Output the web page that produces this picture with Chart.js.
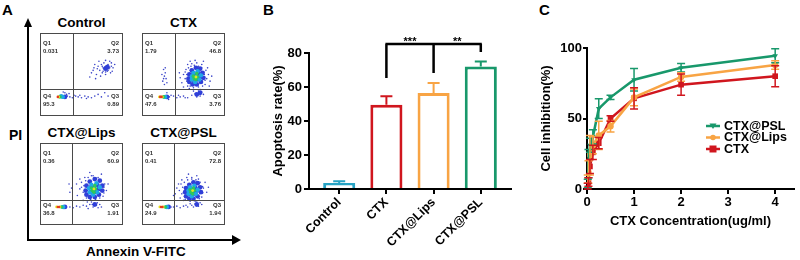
<!DOCTYPE html>
<html>
<head>
<meta charset="utf-8">
<script src="https://cdn.jsdelivr.net/npm/chart.js@4.4.0/dist/chart.umd.min.js"></script>
<style>
  body { margin: 0; background: #fff; font-family: "Liberation Sans", Arial, sans-serif; }
  #wrap { position: relative; width: 800px; height: 260px; overflow: hidden; }
  #wrap canvas { position: absolute; }
  .lbl { position: absolute; font-weight: bold; color: #000; white-space: nowrap; }
  .ttl { position: absolute; width: 91px; text-align: center; font-weight: bold; font-size: 13.5px; line-height: 14px; }
  .bar { position: absolute; background: #000; }
  .tri { position: absolute; width: 0; height: 0; }
</style>
</head>
<body>
<div id="wrap">
  <div class="lbl" style="left:2px;top:1px;font-size:15px;">A</div>
  <div class="lbl" style="left:263px;top:1px;font-size:15px;">B</div>
  <div class="lbl" style="left:539px;top:1px;font-size:15px;">C</div>

  <!-- panel A axes -->
  <div class="bar" style="left:27px;top:26px;width:2px;height:215px;"></div>
  <div class="tri" style="left:24px;top:18px;border-left:4px solid transparent;border-right:4px solid transparent;border-bottom:9px solid #000;"></div>
  <div class="bar" style="left:27px;top:239px;width:207px;height:2px;"></div>
  <div class="tri" style="left:232px;top:235px;border-top:5px solid transparent;border-bottom:5px solid transparent;border-left:9px solid #000;"></div>
  <div class="lbl" style="left:9px;top:127px;font-size:14px;">PI</div>
  <div class="lbl" style="left:86px;top:244px;font-size:13.5px;">Annexin V-FITC</div>

  <div class="ttl" style="left:36px;top:16px;">Control</div>
  <div class="ttl" style="left:138px;top:16px;">CTX</div>
  <div class="ttl" style="left:36px;top:126px;">CTX@Lips</div>
  <div class="ttl" style="left:138px;top:126px;">CTX@PSL</div>

  <canvas id="fcCtrl" width="91" height="91" style="left:36px;top:29px;"></canvas>
  <canvas id="fcCtx" width="91" height="91" style="left:138px;top:29px;"></canvas>
  <canvas id="fcLips" width="91" height="90" style="left:36px;top:139px;"></canvas>
  <canvas id="fcPsl" width="91" height="90" style="left:138px;top:139px;"></canvas>

  <canvas id="barChart" width="272" height="260" style="left:258px;top:0;"></canvas>
  <canvas id="lineChart" width="270" height="260" style="left:530px;top:0;"></canvas>
</div>

<script>
// ---- panel B: apoptosis rate ----
const groups = ['Control', 'CTX', 'CTX@Lips', 'CTX@PSL'];
const apoptosis = [3.5, 49.5, 56.5, 72.0];
const apoptosisErr = [1.0, 5.0, 5.8, 3.0];
const bracketTops = [65.3, 68.2, 80.6];   // drops at CTX, CTX@Lips, CTX@PSL
const bracketLevel = 85.3;
const sigMarks = ['***', '**'];

// ---- panel C: cell inhibition ----
const seriesNames = ['CTX@PSL', 'CTX@Lips', 'CTX'];
const conc = [0.0156, 0.03125, 0.0625, 0.125, 0.25, 0.5, 1, 2, 4];
const concTicks = [0, 1, 2, 3, 4];
const pslInhib = [4, 18, 31, 37, 57, 65, 77.5, 86, 94.5];
const pslErr = [3, 10, 5, 5, 7, 1.5, 8, 3, 5];
const lipsInhib = [7, 12, 24, 31, 38, 44.5, 65, 79.5, 88];
const lipsErr = [3, 8, 14, 6, 10, 4, 6, 3, 3];
const ctxInhib = [2, 5, 16, 26, 32.5, 50, 64.3, 74, 80];
const ctxErr = [2, 3, 5, 5, 4, 2, 7.5, 7.5, 7.5];

// ---- panel A: flow cytometry quadrants ----
const quadNames = ['Q1', 'Q2', 'Q3', 'Q4'];
const ctrlQuad = ['0.031', '3.73', '0.89', '95.3'];
const ctxQuad = ['1.79', '46.8', '3.76', '47.6'];
const lipsQuad = ['0.36', '60.9', '1.91', '36.8'];
const pslQuad = ['0.41', '72.8', '1.94', '24.9'];

// events by density level (sparse, blue, cyan, green, yellow, red), Annexin V vs PI
const ctrlSparse = [[62,52],[65,58],[68,50],[70,60],[72,55],[74,62],[75,52],[76,58],[77,64],[78,56],[79,50],[80,60],[81,54],[82,62],[83,57],[84,66],[85,52],[86,60],[88,58],[73,48],[66,62],[71,66],[79,67],[87,54],[90,62],
  [76,54],[78,59],[80,56],[81,61],[83,60],[79,53],[77,57],[82,55],[84,58],[75,60],[69,57],[64,55],[86,64],[60,47],[67,45],
  [31,23],[33,24],[36,23],[39,22],[43,24],[46,23],[50,22],[54,24],[58,23],[62,22],[66,24],[70,26],[74,23],[78,28],[82,24],[35,27],[30,28],[28,29],[32,26],[41,25],[48,25],[56,21]];
const ctrlBlue = [[30,23],[79,57],[81,59]];
const ctrlCyan = [[27.5,23],[25.5,24]];
const ctrlGreen = [[24,23]];
const ctrlYellow = [[22.5,23]];
const ctrlRed = [[21.5,23]];

const ctxSparse = [[48,40],[50,50],[52,45],[53,56],[55,36],[55,62],[57,33],[60,63],[62,30],[66,64],[70,32],[72,62],[76,38],[77,55],[78,45],[80,50],[50,35],[46,46],[74,66],[82,42],
  [54,42],[54,50],[56,58],[59,60],[63,61],[68,60],[72,58],[75,50],[76,43],[73,36],[68,35],[62,34],[58,36],[52,53],[79,58],[45,52],[84,48],[81,36],[64,67],[58,66],
  [25,42],[27,48],[28,52],[26,56],[29,45],[24,50],[30,40],[27,38],[26,45],[28,58],
  [33,23],[35,25],[38,24],[42,22],[46,23],[50,24],[55,22],[60,25],[64,27],[70,24],[74,26],[30,28],[32,20],[44,25],[52,22],[66,23],[72,29],[68,30]];
const ctxBlue = [[57,41],[61,38],[66,38],[71,41],[74,46],[73,52],[70,57],[65,58],[60,55],[57,50],[56,45],[61,44],[66,44],[70,47],[68,52],[62,51],[65,48],
  [30,23],[66,26],[70,28]];
const ctxCyan = [[60,44],[64,41],[69,44],[71,49],[67,54],[62,52],[65,47],[60,48],[28,23]];
const ctxGreen = [[63,45],[67,47],[66,51],[62,48],[65,44],[26,23]];
const ctxYellow = [[65,47],[21,23],[24.5,23]];
const ctxRed = [[22,23],[23.5,23]];

const lipsSparse = [[45,36],[48,44],[50,52],[52,30],[54,58],[57,28],[62,60],[70,58],[76,35],[78,50],[80,42],[48,56],[36,40],[38,45],[35,50],
  [52,40],[53,48],[55,54],[58,58],[64,60],[68,57],[73,55],[77,46],[77,39],[72,33],[67,31],[61,31],[56,33],[50,46],[82,50],[44,50],[74,62],[60,64],
  [32,22],[36,22],[40,21],[44,23],[48,22],[52,24],[56,23],[60,25],[64,22],[66,26],[68,24],[70,21],[72,25],[62,28],[58,20],[74,22],[65,24],[69,27],[63,25]];
const lipsBlue = [[56,37],[60,34],[66,34],[71,37],[75,42],[75,48],[72,54],[66,56],[60,53],[56,48],[55,42],[61,40],[66,40],[71,44],[69,49],[62,47],[65,45],
  [30,22],[66,25]];
const lipsCyan = [[60,40],[64,37],[69,40],[72,46],[68,51],[62,49],[65,44],[59,45],[28,22]];
const lipsGreen = [[63,42],[67,44],[66,48],[62,45],[65,40],[26,22]];
const lipsYellow = [[65,44],[20,22],[24,22]];
const lipsRed = [[21.5,22],[23,22]];

const pslSparse = [[40,38],[42,45],[44,50],[46,33],[48,55],[50,30],[54,58],[60,58],[68,56],[72,34],[74,45],[76,52],[45,42],[38,36],[78,40],
  [48,38],[49,46],[51,52],[55,55],[60,56],[65,55],[70,52],[73,47],[73,39],[69,32],[64,29],[58,29],[52,31],[47,50],[80,46],[56,62],[66,60],
  [35,22],[38,22],[42,23],[46,21],[50,23],[55,22],[60,24],[64,26],[68,23],[72,25],[66,28],[58,26],[62,22],[70,27],[53,24]];
const pslBlue = [[53,35],[57,32],[62,32],[67,35],[71,40],[70,46],[67,51],[62,52],[57,49],[53,45],[52,40],[57,38],[62,38],[66,42],[64,46],[58,44],[61,41],
  [32,22],[66,25]];
const pslCyan = [[56,38],[60,35],[65,38],[67,43],[63,48],[58,46],[61,42],[56,42],[30,22]];
const pslGreen = [[59,40],[63,42],[62,45],[58,43],[61,38],[28,22]];
const pslYellow = [[61,42],[21.5,22],[25.5,22]];
const pslRed = [[23,22],[24.5,22]];

const groupColors = ['#27a3c4', '#d0161e', '#f8a444', '#18986b'];
const seriesColors = ['#18986b', '#f8a444', '#d0161e'];
const dotColors = ['#3a44c8', '#2f3fd8', '#1fa8e6', '#2ec85a', '#e6e21e', '#e43a1e'];
const dotSizes = [0.8, 2.4, 2.2, 1.8, 1.4, 1.3];

Chart.defaults.font.family = '"Liberation Sans", Arial, sans-serif';
Chart.defaults.font.weight = 'bold';
Chart.defaults.color = '#000';
Chart.defaults.animation = false;

// gate lines, frame and quadrant numbers
const quadGate = {
  id: 'quadGate',
  afterDatasetsDraw(chart, args, opts) {
    const { ctx, chartArea: a, scales: { x, y } } = chart;
    ctx.save();
    ctx.strokeStyle = '#4a4a4a';
    ctx.lineWidth = 1;
    const gx = Math.round(x.getPixelForValue(opts.gate[0])) + 0.5;
    const gy = Math.round(y.getPixelForValue(opts.gate[1])) + 0.5;
    ctx.beginPath();
    ctx.moveTo(gx, a.top); ctx.lineTo(gx, a.bottom);
    ctx.moveTo(a.left, gy); ctx.lineTo(a.right, gy);
    ctx.stroke();
    ctx.strokeRect(a.left + 0.5, a.top + 0.5, a.width - 1, a.height - 1);
    ctx.fillStyle = '#333';
    ctx.font = 'bold 6px "Liberation Sans"';
    ctx.textBaseline = 'middle';
    const v = opts.values;
    ctx.textAlign = 'left';
    ctx.fillText(quadNames[0], a.left + 3, a.top + 10);
    ctx.fillText(v[0], a.left + 3, a.top + 18);
    ctx.fillText(quadNames[3], a.left + 3, a.bottom - 20);
    ctx.fillText(v[3], a.left + 3, a.bottom - 12);
    ctx.textAlign = 'right';
    ctx.fillText(quadNames[1], a.right - 4, a.top + 10);
    ctx.fillText(v[1], a.right - 4, a.top + 18);
    ctx.fillText(quadNames[2], a.right - 4, a.bottom - 20);
    ctx.fillText(v[2], a.right - 4, a.bottom - 12);
    ctx.restore();
  }
};

function flowPlot(id, values, gate, levels) {
  // red drawn last (dataset 0 is painted on top)
  const sets = levels.map((pts, i) => ({
    data: pts.map(p => ({ x: p[0], y: p[1] })),
    pointRadius: dotSizes[i],
    backgroundColor: dotColors[i],
    borderWidth: 0
  })).reverse();
  new Chart(document.getElementById(id), {
    type: 'scatter',
    data: { datasets: sets },
    options: {
      responsive: false,
      layout: { padding: 0 },
      scales: {
        x: { type: 'linear', min: 0, max: 100, display: false },
        y: { type: 'linear', min: 0, max: 100, display: false }
      },
      plugins: { legend: { display: false }, tooltip: { enabled: false }, quadGate: { gate: gate, values: values } }
    },
    plugins: [quadGate]
  });
}

flowPlot('fcCtrl', ctrlQuad, [40, 32], [ctrlSparse, ctrlBlue, ctrlCyan, ctrlGreen, ctrlYellow, ctrlRed]);
flowPlot('fcCtx', ctxQuad, [40, 32], [ctxSparse, ctxBlue, ctxCyan, ctxGreen, ctxYellow, ctxRed]);
flowPlot('fcLips', lipsQuad, [39, 31], [lipsSparse, lipsBlue, lipsCyan, lipsGreen, lipsYellow, lipsRed]);
flowPlot('fcPsl', pslQuad, [39, 31], [pslSparse, pslBlue, pslCyan, pslGreen, pslYellow, pslRed]);

// error bars (upper only) and significance bracket for panel B
const barExtras = {
  id: 'barExtras',
  afterDatasetsDraw(chart) {
    const { ctx, scales: { x, y } } = chart;
    ctx.save();
    ctx.lineWidth = 2;
    apoptosis.forEach((v, i) => {
      const px = x.getPixelForValue(i);
      const top = y.getPixelForValue(v);
      const end = y.getPixelForValue(v + apoptosisErr[i]);
      ctx.strokeStyle = groupColors[i];
      ctx.beginPath();
      ctx.moveTo(px, top); ctx.lineTo(px, end);
      ctx.moveTo(px - 6, end); ctx.lineTo(px + 6, end);
      ctx.stroke();
    });
    const by = y.getPixelForValue(bracketLevel);
    ctx.strokeStyle = '#000';
    ctx.lineWidth = 2.5;
    ctx.beginPath();
    ctx.moveTo(x.getPixelForValue(1) - 1, by);
    ctx.lineTo(x.getPixelForValue(3) + 1, by);
    bracketTops.forEach((t, k) => {
      const px = x.getPixelForValue(k + 1);
      ctx.moveTo(px, by);
      ctx.lineTo(px, y.getPixelForValue(t));
    });
    ctx.stroke();
    ctx.fillStyle = '#000';
    ctx.font = 'bold 11px "Liberation Sans"';
    ctx.textAlign = 'center';
    ctx.textBaseline = 'alphabetic';
    sigMarks.forEach((m, k) => {
      const mid = (x.getPixelForValue(k + 1) + x.getPixelForValue(k + 2)) / 2;
      ctx.fillText(m, mid, by + 1);
    });
    ctx.restore();
  }
};

new Chart(document.getElementById('barChart'), {
  type: 'bar',
  data: {
    datasets: [{
      data: apoptosis.map((v, i) => ({ x: i, y: v })),
      backgroundColor: '#fff',
      borderColor: groupColors,
      borderWidth: 3,
      barPercentage: 0.68,
      categoryPercentage: 1
    }]
  },
  options: {
    responsive: false,
    layout: { padding: { top: 53, right: 19, left: 0, bottom: 0 } },
    scales: {
      x: {
        type: 'linear', min: -0.64, max: 3.64, offset: false,
        afterBuildTicks: s => { s.ticks = groups.map((g, i) => ({ value: i })); },
        afterFit: s => { s.height = 71; s.paddingLeft = 0; s.paddingRight = 0; },
        grid: { offset: false, drawOnChartArea: false, drawTicks: true, tickLength: 5, color: '#000', lineWidth: 2 },
        border: { color: '#000', width: 2 },
        ticks: { callback: v => groups[v], minRotation: 45, maxRotation: 45, padding: 1, font: { size: 12.5, weight: 'bold' } }
      },
      y: {
        min: 0, max: 80,
        afterFit: s => { s.width = 51; },
        grid: { drawOnChartArea: false, drawTicks: true, tickLength: 5, color: '#000', lineWidth: 2 },
        border: { color: '#000', width: 2 },
        ticks: { stepSize: 20, padding: 2, font: { size: 13, weight: 'bold' } },
        title: { display: true, text: 'Apoptosis rate(%)', padding: { top: 13 }, font: { size: 13, weight: 'bold' } }
      }
    },
    plugins: { legend: { display: false }, tooltip: { enabled: false } }
  },
  plugins: [barExtras]
});

// panel C error bars and in-plot legend
const allErr = [pslErr, lipsErr, ctxErr];
const lineErrors = {
  id: 'lineErrors',
  afterDatasetsDraw(chart) {
    const { ctx, scales: { x, y } } = chart;
    ctx.save();
    ctx.lineWidth = 1.5;
    chart.data.datasets.forEach((ds, k) => {
      ctx.strokeStyle = seriesColors[k];
      ds.data.forEach((p, i) => {
        const e = allErr[k][i];
        const px = x.getPixelForValue(p.x);
        const y1 = y.getPixelForValue(p.y + e);
        const y2 = y.getPixelForValue(Math.max(0, p.y - e));
        ctx.beginPath();
        ctx.moveTo(px, y1); ctx.lineTo(px, y2);
        ctx.moveTo(px - 4, y1); ctx.lineTo(px + 4, y1);
        ctx.moveTo(px - 4, y2); ctx.lineTo(px + 4, y2);
        ctx.stroke();
      });
    });
    ctx.restore();
  },
  afterDraw(chart) {
    const { ctx, chartArea: a } = chart;
    ctx.save();
    ctx.font = 'bold 12.5px "Liberation Sans"';
    ctx.textBaseline = 'middle';
    ctx.textAlign = 'left';
    seriesNames.forEach((name, k) => {
      const yy = a.top + 78 + k * 11.5;
      const x0 = a.left + 119;
      ctx.strokeStyle = seriesColors[k];
      ctx.fillStyle = seriesColors[k];
      ctx.lineWidth = 2.5;
      ctx.beginPath(); ctx.moveTo(x0, yy); ctx.lineTo(x0 + 14, yy); ctx.stroke();
      const cx = x0 + 7;
      ctx.beginPath();
      if (k === 0) { ctx.moveTo(cx - 3.5, yy - 2.5); ctx.lineTo(cx + 3.5, yy - 2.5); ctx.lineTo(cx, yy + 3); ctx.closePath(); }
      else if (k === 1) { ctx.arc(cx, yy, 2.8, 0, Math.PI * 2); }
      else { ctx.rect(cx - 3.5, yy - 3.5, 7, 7); }
      ctx.fill();
      ctx.fillStyle = '#000';
      ctx.fillText(name, x0 + 18, yy + 0.5);
    });
    ctx.restore();
  }
};

const seriesData = [pslInhib, lipsInhib, ctxInhib];
const pointStyles = ['triangle', 'circle', 'rect'];
new Chart(document.getElementById('lineChart'), {
  type: 'line',
  data: {
    datasets: seriesNames.map((name, k) => ({
      label: name,
      data: conc.map((c, i) => ({ x: c, y: seriesData[k][i] })),
      borderColor: seriesColors[k],
      backgroundColor: seriesColors[k],
      borderWidth: 2.5,
      pointStyle: pointStyles[k],
      pointRotation: k === 0 ? 180 : 0,
      pointRadius: k === 2 ? 4 : 3.2,
      pointBorderWidth: 0,
      tension: 0
    }))
  },
  options: {
    responsive: false,
    layout: { padding: { top: 48, right: 6, left: 0, bottom: 0 } },
    scales: {
      x: {
        type: 'linear', min: 0, max: 4.4,
        afterBuildTicks: s => { s.ticks = concTicks.map(v => ({ value: v })); },
        afterFit: s => { s.height = 71; s.paddingLeft = 0; s.paddingRight = 0; },
        grid: { drawOnChartArea: false, drawTicks: true, tickLength: 5, color: '#000', lineWidth: 2 },
        border: { color: '#000', width: 2 },
        ticks: { padding: 1, maxRotation: 0, font: { size: 13, weight: 'bold' } },
        title: { display: true, text: 'CTX Concentration(ug/ml)', padding: { bottom: 31 }, font: { size: 13, weight: 'bold' } }
      },
      y: {
        min: 0, max: 100,
        afterFit: s => { s.width = 57; },
        grid: { drawOnChartArea: false, drawTicks: true, tickLength: 4, color: '#000', lineWidth: 2 },
        border: { color: '#000', width: 2 },
        ticks: { stepSize: 50, padding: 1, font: { size: 13, weight: 'bold' } },
        title: { display: true, text: 'Cell inhibition(%)', padding: { top: 9 }, font: { size: 13, weight: 'bold' } }
      }
    },
    plugins: { legend: { display: false }, tooltip: { enabled: false } }
  },
  plugins: [lineErrors]
});
</script>
</body>
</html>
